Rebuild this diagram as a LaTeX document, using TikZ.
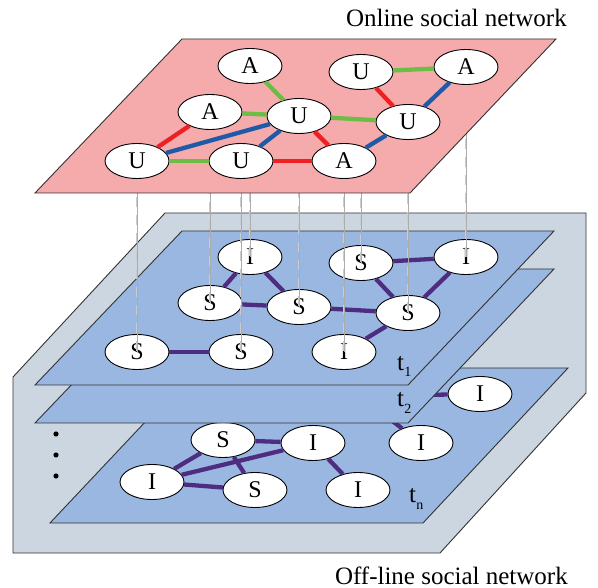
\documentclass[tikz,border=0pt]{standalone}
\usepackage{fontspec}
\setmainfont{Liberation Serif}
\usetikzlibrary{shapes.geometric}
\definecolor{pinkplane}{RGB}{245,170,172}
\definecolor{blueplane}{RGB}{153,183,224}
\definecolor{graybox}{RGB}{204,214,224}
\definecolor{ered}{RGB}{237,32,36}
\definecolor{egreen}{RGB}{108,189,69}
\definecolor{eblue}{RGB}{31,90,168}
\definecolor{epurple}{RGB}{78,45,128}
\begin{document}
\begin{tikzpicture}[x=1pt,y=-1pt,
  vtx/.style={ellipse, draw=black, line width=0.9pt, fill=white,
    minimum width=64pt, minimum height=35pt, inner sep=0pt,
    font=\fontsize{24}{24}\selectfont},
  plane/.style={draw=black!80, line width=0.9pt},
  pe/.style={line width=4.3pt},
  re/.style={pe, ered},
  ge/.style={pe, egreen},
  be/.style={pe, eblue},
  ue/.style={pe, epurple},
  projline/.style={gray!65, line width=0.7pt,
    preaction={draw, gray!40, line width=2.4pt, dash pattern=on 10pt off 8pt}},
  tlabel/.style={anchor=base west, inner sep=0pt, font=\fontsize{25}{25}\selectfont},
  title/.style={anchor=base east, inner sep=0pt, font=\fontsize{25}{25}\selectfont}]
\useasboundingbox (0,0) rectangle (598,588);
\newcommand{\sub}[1]{\kern0.3pt\raisebox{-6pt}{\fontsize{14}{14}\selectfont #1}}

% grey box
\draw[plane, fill=graybox] (13,377) -- (165,213) -- (586,213) -- (586,393) -- (440,553) -- (13,553) -- cycle;

% layer t_n
\draw[plane, fill=blueplane] (196,368) -- (568,368) -- (423,523) -- (50,523) -- cycle;
\coordinate (hid) at (360,396);
\node[vtx] (n1) at (152,482) {I};
\node[vtx] (n2) at (223,440) {S};
\node[vtx] (n3) at (313,443) {I};
\node[vtx] (n4) at (255,490) {S};
\node[vtx] (n5) at (358,490) {I};
\node[vtx] (n6) at (421,443) {I};
\node[vtx] (n7) at (480,394) {I};
\draw[ue] (n1) -- (n2);
\draw[ue] (n1) -- (n3);
\draw[ue] (n1) -- (n4);
\draw[ue] (n2) -- (n3);
\draw[ue] (n2) -- (n4);
\draw[ue] (n3) -- (n5);
\draw[ue] (n6) -- (hid);
\draw[ue] (n7) -- (hid);
\node[tlabel] (ln) at (409,503) {t\sub{n}};

% dots
\fill (56,434) circle (2.6pt);
\fill (56,455) circle (2.6pt);
\fill (56,476) circle (2.6pt);

% layer t_2
\draw[plane, fill=blueplane] (182,269) -- (554,269) -- (408,423) -- (35,423) -- cycle;
\node[tlabel] (l2) at (397,407) {t\sub{2}};

% layer t_1
\draw[plane, fill=blueplane] (182,231) -- (554,231) -- (408,385) -- (35,385) -- cycle;
\node[vtx] (q1) at (250,257) {I};
\node[vtx] (q2) at (361,263) {S};
\node[vtx] (q3) at (466,257) {I};
\node[vtx] (q4) at (210,303) {S};
\node[vtx] (q5) at (299,307) {S};
\node[vtx] (q6) at (408,313) {S};
\node[vtx] (q7) at (137,352) {S};
\node[vtx] (q8) at (241,352) {S};
\node[vtx] (q9) at (344,352) {I};
\draw[ue] (q1) -- (q4);
\draw[ue] (q1) -- (q5);
\draw[ue] (q4) -- (q5);
\draw[ue] (q5) -- (q6);
\draw[ue] (q2) -- (q3);
\draw[ue] (q2) -- (q6);
\draw[ue] (q3) -- (q6);
\draw[ue] (q6) -- (q9);
\draw[ue] (q7) -- (q8);
\node[tlabel] (l1) at (397,371) {t\sub{1}};

% pink node positions
\coordinate (c1) at (250,66);
\coordinate (c2) at (361,72);
\coordinate (c3) at (466,67);
\coordinate (c4) at (210,112);
\coordinate (c5) at (299,116);
\coordinate (c6) at (408,122);
\coordinate (c7) at (137,161);
\coordinate (c8) at (241,161);
\coordinate (c9) at (344,161);

% projection lines
\draw[projline] (c1) -- (q1.center);
\draw[projline] (c2) -- (q2.center);
\draw[projline] (c3) -- (q3.center);
\draw[projline] (c4) -- (q4.center);
\draw[projline] (c5) -- (q5.center);
\draw[projline] (c6) -- (q6.center);
\draw[projline] (c7) -- (q7.center);
\draw[projline] (c8) -- (q8.center);
\draw[projline] (c9) -- (q9.center);

% online plane
\draw[plane, fill=pinkplane] (182,39) -- (556,39) -- (410,193) -- (35,193) -- cycle;
\node[vtx] (p1) at (c1) {A};
\node[vtx] (p2) at (c2) {U};
\node[vtx] (p3) at (c3) {A};
\node[vtx] (p4) at (c4) {A};
\node[vtx] (p5) at (c5) {U};
\node[vtx] (p6) at (c6) {U};
\node[vtx] (p7) at (c7) {U};
\node[vtx] (p8) at (c8) {U};
\node[vtx] (p9) at (c9) {A};
\draw[ge] (p1) -- (p5);
\draw[ge] (p4) -- (p5);
\draw[ge] (p5) -- (p6);
\draw[ge] (p2) -- (p3);
\draw[ge] (p7) -- (p8);
\draw[re] (p2) -- (p6);
\draw[re] (p7) -- (p4);
\draw[re] (p8) -- (p9);
\draw[re] (p5) -- (p9);
\draw[be] (p3) -- (p6);
\draw[be] (p7) -- (p5);
\draw[be] (p8) -- (p5);
\draw[be] (p9) -- (p6);

% titles
\node[title] (ton) at (567,27) {Online social network};
\node[title] (toff) at (568,584) {Off-line social network};
\end{tikzpicture}
\end{document}
